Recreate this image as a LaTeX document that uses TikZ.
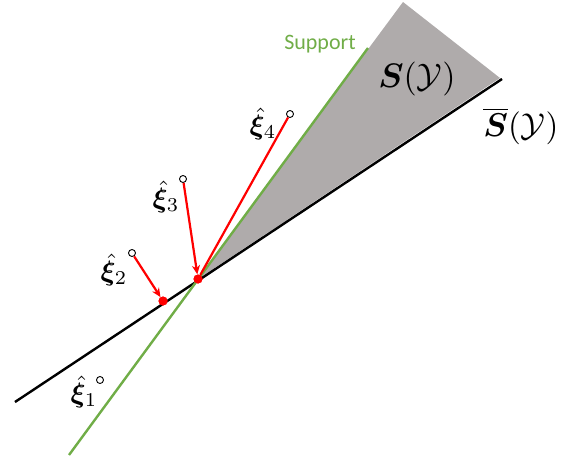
\documentclass[tikz,border=0pt]{standalone}
\usepackage{fontspec}
\newfontfamily\supportfont{Carlito}
\usepackage{amsmath}
\usepackage{bm}
\usetikzlibrary{arrows.meta}
\definecolor{suppgreen}{RGB}{112,173,71}
\definecolor{conegray}{RGB}{175,171,171}
\definecolor{projred}{RGB}{255,0,0}
\newcommand{\xilbl}[1]{\scalebox{2.8}{$\hat{\bm{\xi}}_{#1}$}}
\tikzset{
  ray/.style={line width=2.4pt},
  projarrow/.style={projred, line width=2.2pt, -{Stealth[length=9pt,width=8pt]}},
  projline/.style={projred, line width=2.2pt},
  sample/.style={circle, draw=black, fill=white, line width=0.9pt, inner sep=0pt, minimum size=7pt},
  proj/.style={circle, fill=projred, inner sep=0pt, minimum size=9pt},
  lbl/.style={inner sep=0pt},
}
\begin{document}
\begin{tikzpicture}[x=1pt,y=-1pt]
\useasboundingbox (0,0) rectangle (575,463);
% cone
\coordinate (V) at (198,279);
\coordinate (gtop) at (403,2);
\coordinate (bend) at (502,79);
\coordinate (bstart) at (15,402);
\coordinate (gstart) at (69,455);
\coordinate (gend) at (368,48);
\fill[conegray] (V) -- (gtop) -- (500,78) -- cycle;
\draw[ray, black] (bstart) -- (bend);
\draw[ray, suppgreen] (gstart) -- (gend);
% samples
\node[sample] (x1) at (100,380) {};
\node[sample] (x2) at (132,253) {};
\node[sample] (x3) at (183,179) {};
\node[sample] (x4) at (290,114) {};
% projections
\node[proj] (p2) at (163,301) {};
\node[proj] (p3) at (198,279) {};
\draw[projarrow] (x2) -- (p2);
\draw[projarrow] (x3) -- (p3);
\draw[projline] (x4) -- (p3);
\node[proj] at (p2) {};
\node[proj] at (p3) {};
% labels
\node[lbl] at (84,392) {\xilbl{1}};
\node[lbl] at (114,270) {\xilbl{2}};
\node[lbl] at (166,197) {\xilbl{3}};
\node[lbl] at (263,124) {\xilbl{4}};
\node[inner sep=0pt, text=suppgreen, font=\supportfont\fontsize{22}{24}\selectfont] at (320,44) {Support};
\node[lbl] at (417,79) {\scalebox{3.4}{$\bm{S}(\mathcal{Y})$}};
\node[lbl] at (521,126) {\scalebox{3.3}{$\overline{\bm{S}}(\mathcal{Y})$}};
\end{tikzpicture}
\end{document}
